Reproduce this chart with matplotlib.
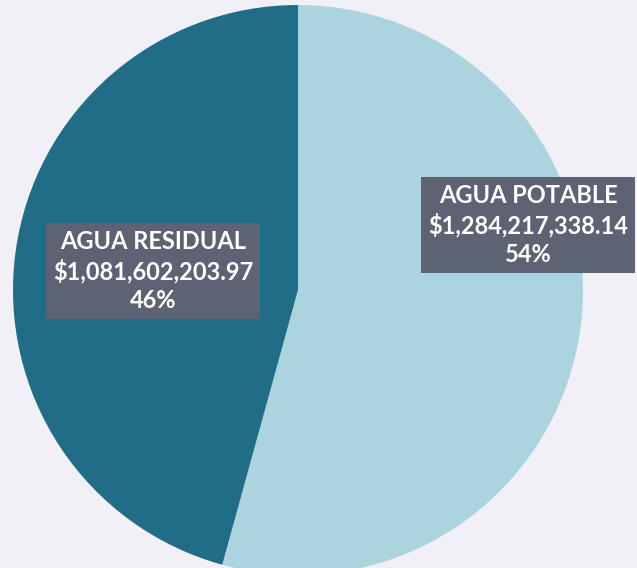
import matplotlib.pyplot as plt

categories = ["AGUA POTABLE", "AGUA RESIDUAL"]
amounts = [1284217338.14, 1081602203.97]
colors = ["#abd4de", "#216c87"]

total = sum(amounts)

W, H = 637, 568
cx, cy, r = 298, 290, 285

fig = plt.figure(figsize=(W / 100, H / 100), dpi=100)
fig.patch.set_facecolor("#f1f0f6")
ax = fig.add_axes([0, 0, 1, 1])
ax.set_facecolor("#f1f0f6")

ax.pie(amounts, colors=colors, startangle=90, counterclock=False,
       wedgeprops=dict(linewidth=0))

# map pixel layout onto data coords (pie radius = 1)
ax.set_xlim(-cx / r, (W - cx) / r)
ax.set_ylim(-(H - cy) / r, cy / r)
ax.set_aspect("auto")
ax.axis("off")

label_pos = [((528 - cx) / r, (cy - 225) / r), ((153 - cx) / r, (cy - 271) / r)]
for name, val, (x, y) in zip(categories, amounts, label_pos):
    txt = f"{name}\n${val:,.2f}\n{val / total:.0%}"
    ax.text(x, y, txt, ha="center", va="center", color="white",
            fontsize=17, fontweight="bold", family="Lato",
            linespacing=1.3,
            bbox=dict(boxstyle="square,pad=0.3", facecolor="#5e6373",
                      edgecolor="none"))

fig.savefig("out.png", dpi=100, facecolor=fig.get_facecolor())
